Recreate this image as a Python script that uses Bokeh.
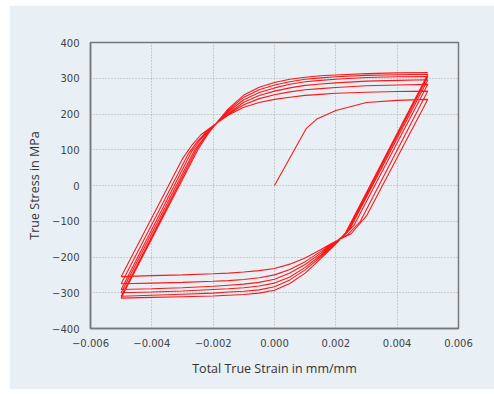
from bokeh.plotting import figure
from bokeh.models import Range1d, FixedTicker, CustomJSTickFormatter, Spacer
from bokeh.layouts import row, column
from bokeh.embed import file_html
from bokeh.resources import INLINE

# ---- data ----
x_ticks = [-0.006, -0.004, -0.002, 0.0, 0.002, 0.004, 0.006]
y_ticks = [-400, -300, -200, -100, 0, 100, 200, 300, 400]

initial_strain = [0.0, 0.00103, 0.0014, 0.002, 0.003, 0.004, 0.005]
initial_stress = [0, 159, 187, 210, 232, 238, 241]

# unloading branches (tension peak -> compression peak)
lower_strain = [
    [0.005, 0.0030, 0.0025, 0.0019, 0.0015, 0.001, 0.0005, 0.0, -0.0005, -0.001, -0.0015, -0.002, -0.003, -0.004, -0.005],
    [0.005, 0.0028, 0.0024, 0.0019, 0.0015, 0.001, 0.0005, 0.0, -0.0005, -0.001, -0.0015, -0.002, -0.003, -0.004, -0.005],
    [0.005, 0.0026, 0.0023, 0.0019, 0.0015, 0.001, 0.0005, 0.0, -0.0005, -0.001, -0.0015, -0.002, -0.003, -0.004, -0.005],
    [0.005, 0.0025, 0.0022, 0.0019, 0.0015, 0.001, 0.0005, 0.0, -0.0005, -0.001, -0.0015, -0.002, -0.003, -0.004, -0.005],
    [0.005, 0.0024, 0.0022, 0.0019, 0.0015, 0.001, 0.0005, 0.0, -0.0005, -0.001, -0.0015, -0.002, -0.003, -0.004, -0.005],
    [0.005, 0.0023, 0.0021, 0.0019, 0.0015, 0.001, 0.0005, 0.0, -0.0005, -0.001, -0.0015, -0.002, -0.003, -0.004, -0.005],
]
lower_stress = [
    [241, -85, -135, -160, -180, -203, -220, -232, -238, -242, -245, -247, -250, -252, -255],
    [264, -100, -137, -162, -185, -213, -235, -250, -258, -263, -266, -268, -271, -273, -275],
    [283, -110, -138, -163, -190, -221, -245, -262, -271, -276, -279, -282, -286, -289, -291],
    [296, -115, -143, -165, -195, -229, -256, -273, -281, -286, -289, -291, -295, -298, -300],
    [305, -125, -145, -168, -200, -236, -264, -283, -292, -296, -298, -301, -304, -307, -310],
    [311, -135, -155, -172, -205, -245, -274, -293, -301, -305, -307, -309, -311, -313, -315],
]

# reloading branches (compression peak -> tension peak)
upper_strain = [
    [-0.005, -0.0030, -0.0027, -0.0024, -0.00196, -0.0015, -0.001, -0.0005, 0.0, 0.0005, 0.001, 0.0015, 0.002, 0.003, 0.004, 0.005],
    [-0.005, -0.0028, -0.0025, -0.0022, -0.00196, -0.0015, -0.001, -0.0005, 0.0, 0.0005, 0.001, 0.0015, 0.002, 0.003, 0.004, 0.005],
    [-0.005, -0.0027, -0.0024, -0.0021, -0.00196, -0.0015, -0.001, -0.0005, 0.0, 0.0005, 0.001, 0.0015, 0.002, 0.003, 0.004, 0.005],
    [-0.005, -0.0026, -0.0023, -0.0021, -0.00196, -0.0015, -0.001, -0.0005, 0.0, 0.0005, 0.001, 0.0015, 0.002, 0.003, 0.004, 0.005],
    [-0.005, -0.00255, -0.0023, -0.0021, -0.00196, -0.0015, -0.001, -0.0005, 0.0, 0.0005, 0.001, 0.0015, 0.002, 0.003, 0.004, 0.005],
    [-0.005, -0.0025, -0.0022, -0.0021, -0.00196, -0.0015, -0.001, -0.0005, 0.0, 0.0005, 0.001, 0.0015, 0.002, 0.003, 0.004, 0.005],
]
upper_stress = [
    [-255, 75, 112, 142, 170, 197, 219, 232, 241, 247, 252, 255, 258, 261, 263, 264],
    [-275, 90, 125, 152, 169, 200, 226, 243, 254, 262, 268, 271, 274, 279, 281, 283],
    [-291, 95, 130, 156, 168, 202, 233, 252, 264, 273, 280, 284, 287, 292, 294, 296],
    [-300, 100, 133, 153, 167, 207, 240, 260, 273, 283, 290, 294, 297, 302, 304, 305],
    [-310, 100, 132, 152, 167, 211, 247, 268, 281, 290, 297, 301, 304, 308, 310, 311],
    [-315, 100, 140, 152, 168, 215, 253, 275, 288, 297, 303, 307, 309, 313, 315, 316],
]

# ---- build the continuous load path ----
xs = list(initial_strain)
ys = list(initial_stress)
for k in range(len(lower_strain)):
    xs += lower_strain[k] + upper_strain[k]
    ys += lower_stress[k] + upper_stress[k]

BG = "#e8f0f6"

p = figure(width=485, height=384, output_backend="svg", toolbar_location=None,
           x_range=Range1d(-0.006, 0.006), y_range=Range1d(-400, 400),
           min_border_left=81, min_border_right=36, min_border_top=37, min_border_bottom=61,
           x_axis_label="Total True Strain in mm/mm", y_axis_label="True Stress in MPa")
p.background_fill_color = BG
p.border_fill_color = BG
p.outline_line_color = "#777777"
p.outline_line_width = 1.5

p.line(xs, ys, line_color="#ff0000", line_width=1.1, line_alpha=0.9)

p.xaxis.ticker = FixedTicker(ticks=x_ticks)
p.yaxis.ticker = FixedTicker(ticks=y_ticks)
p.xaxis.formatter = CustomJSTickFormatter(code="""
    let t = Math.abs(tick) < 1e-12 ? 0 : tick;
    return t.toFixed(3).replace('-', '\u2212');
""")
p.yaxis.formatter = CustomJSTickFormatter(code="""
    let t = Math.round(tick);
    return String(t).replace('-', '\u2212');
""")
for ax in (p.xaxis[0], p.yaxis[0]):
    ax.major_tick_line_color = None
    ax.minor_tick_line_color = None
    ax.axis_line_color = "#777777"
    ax.axis_line_width = 1.5
    ax.major_label_text_font = "DejaVu Sans"
    ax.major_label_text_font_size = "10px"
    ax.major_label_text_color = "#444444"
    ax.axis_label_text_font = "Open Sans"
    ax.axis_label_text_font_size = "12.5px"
    ax.axis_label_text_font_style = "normal"
    ax.axis_label_text_color = "#333333"
p.xaxis.major_label_standoff = 4
p.yaxis.major_label_standoff = 5
p.xaxis.axis_label_standoff = 10
p.yaxis.axis_label_standoff = 6

p.grid.grid_line_color = "#999999"
p.grid.grid_line_dash = "1 2"
p.grid.grid_line_width = 1
p.grid.grid_line_alpha = 0.8

layout = column(Spacer(height=5), row(Spacer(width=9), p))

open("out.html", "w").write(file_html(layout, INLINE))
